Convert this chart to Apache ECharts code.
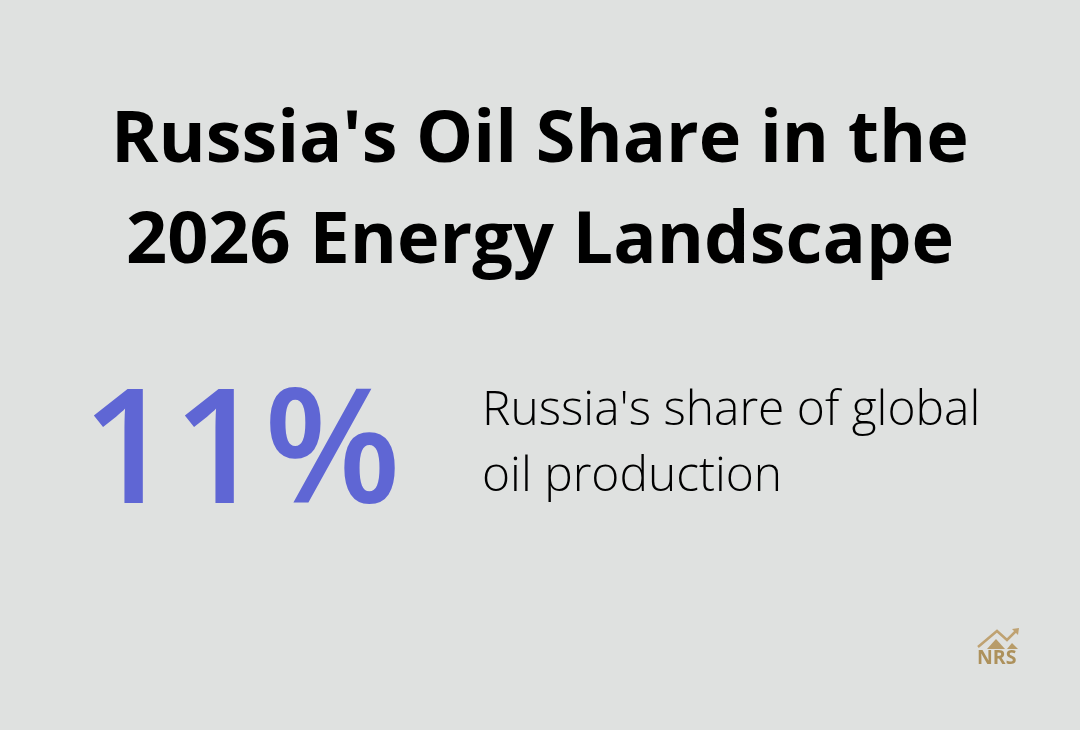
<!DOCTYPE html>
<html><head><meta charset="utf-8">
<style>html,body{margin:0;padding:0;background:#dfe1e0}#c{width:1080px;height:730px}</style>
<script src="https://cdn.jsdelivr.net/npm/echarts@6/dist/echarts.min.js"></script></head>
<body><div id="c"></div>
<script>
const titleLines = ["Russia's Oil Share in the", "2026 Energy Landscape"];
const statValue = ["11%"];
const statLabel = ["Russia's share of global", "oil production"];
const logoText = ["NRS"];
const chart = echarts.init(document.getElementById('c'));
const F = '"Open Sans"';
const gold = '#bfa272';
chart.setOption({
  backgroundColor:'#dfe1e0',
  animation:false,
  graphic:[
    {type:'text',left:111,top:106,style:{text:titleLines[0],font:'700 71.9px '+F,fill:'#000'}},
    {type:'text',left:126,top:206,style:{text:titleLines[1],font:'700 72px '+F,fill:'#000'}},
    {type:'text',left:82,top:378,style:{text:statValue[0],font:'600 159px '+F,fill:'#5f66d4'}},
    {type:'text',left:482,top:387,style:{text:statLabel[0],font:'300 47.9px '+F,fill:'#000'}},
    {type:'text',left:482,top:453,style:{text:statLabel[1],font:'300 47.9px '+F,fill:'#000'}},
    {type:'text',left:977,top:648,style:{text:logoText[0],font:'700 19.5px '+F,fill:'#ad915c'}},
    {type:'polyline',shape:{points:[[978,647],[997,631],[1007,640],[1016,631]]},style:{stroke:gold,fill:null,lineWidth:2.5}},
    {type:'polygon',shape:{points:[[1012,629],[1019,628],[1018,635]]},style:{fill:gold}},
    {type:'polygon',shape:{points:[[987,649],[996,639],[1005,649]]},style:{fill:'#b89c69'}},
    {type:'polygon',shape:{points:[[1007,649],[1012,643],[1018,649]]},style:{fill:'#b89c69'}}
  ]
});
</script></body></html>
